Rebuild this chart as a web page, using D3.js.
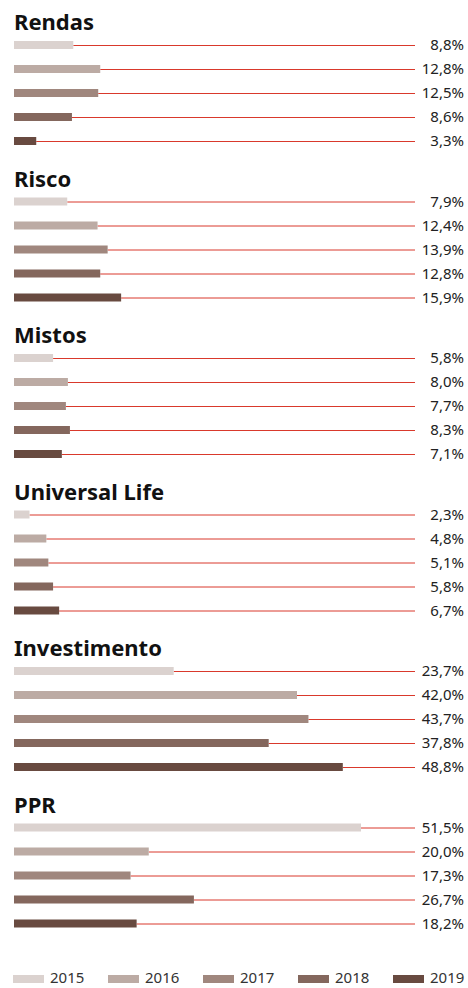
<!DOCTYPE html>
<html>
<head>
<meta charset="utf-8">
<script src="https://cdn.jsdelivr.net/npm/d3@7"></script>
<style>
  html, body { margin: 0; padding: 0; background: #fff; }
  svg { display: block; font-family: "Noto Sans", "Open Sans", sans-serif; }
</style>
</head>
<body>
<svg id="chart"></svg>
<script>
const categories = ["Rendas", "Risco", "Mistos", "Universal Life", "Investimento", "PPR"];
const years = ["2015", "2016", "2017", "2018", "2019"];

// one array per year, in category order
const values2015 = [8.8, 7.9, 5.8, 2.3, 23.7, 51.5];
const values2016 = [12.8, 12.4, 8.0, 4.8, 42.0, 20.0];
const values2017 = [12.5, 13.9, 7.7, 5.1, 43.7, 17.3];
const values2018 = [8.6, 12.8, 8.3, 5.8, 37.8, 26.7];
const values2019 = [3.3, 15.9, 7.1, 6.7, 48.8, 18.2];

const yearColors = ["#dbd2cf", "#bcaba4", "#a0877e", "#84675d", "#684a40"];

const series = [values2015, values2016, values2017, values2018, values2019];

const width = 468, height = 988;
const lineEnd = 415, labelRight = 464;

const svg = d3.select("#chart").attr("width", width).attr("height", height);

const color = d3.scaleOrdinal().domain(years).range(yearColors);
const x = d3.scaleLinear().domain([0, 51.5]).range([14, 361]);
const section = d3.scaleBand().domain(categories).range([0, 156.5 * categories.length]);
const row = d3.scalePoint().domain(years).range([44.7, 140.7]);

const pt = d3.formatLocale({decimal: ",", thousands: ".", grouping: [3], currency: ["", "€"]});
const fmt = v => pt.format(".1f")(v) + "%";

const groups = svg.selectAll("g.section")
  .data(categories)
  .join("g")
  .attr("class", "section")
  .attr("transform", d => `translate(0,${section(d)})`);

groups.append("text")
  .attr("x", 14)
  .attr("y", 30)
  .attr("font-size", 22)
  .attr("font-weight", 700)
  .attr("fill", "#111")
  .text(d => d);

groups.each(function(cat, ci) {
  const rows = years.map((yr, yi) => ({year: yr, value: series[yi][ci]}));
  const g = d3.select(this);

  g.selectAll("line.lead")
    .data(rows)
    .join("line")
    .attr("class", "lead")
    .attr("x1", d => x(d.value))
    .attr("x2", lineEnd)
    .attr("y1", d => Math.round(row(d.year)) + 0.5)
    .attr("y2", d => Math.round(row(d.year)) + 0.5)
    .attr("stroke", "#d9392c")
    .attr("stroke-width", 1);

  g.selectAll("rect")
    .data(rows)
    .join("rect")
    .attr("x", x(0))
    .attr("y", d => Math.round(row(d.year)) - 4)
    .attr("width", d => x(d.value) - x(0))
    .attr("height", 8)
    .attr("fill", d => color(d.year));

  g.selectAll("text.val")
    .data(rows)
    .join("text")
    .attr("class", "val")
    .attr("x", labelRight)
    .attr("y", d => row(d.year))
    .attr("dy", "0.36em")
    .attr("text-anchor", "end")
    .attr("font-size", 15)
    .attr("fill", "#222")
    .text(d => fmt(d.value));
});

// legend
const legendX = d3.scalePoint().domain(years).range([13, 393]);
const legend = svg.append("g")
  .selectAll("g")
  .data(years)
  .join("g")
  .attr("transform", d => `translate(${legendX(d)},975)`);

legend.append("rect")
  .attr("width", 31)
  .attr("height", 8)
  .attr("fill", d => color(d));

legend.append("text")
  .attr("x", 37)
  .attr("y", 8)
  .attr("font-size", 15)
  .attr("fill", "#333")
  .text(d => d);
</script>
</body>
</html>
